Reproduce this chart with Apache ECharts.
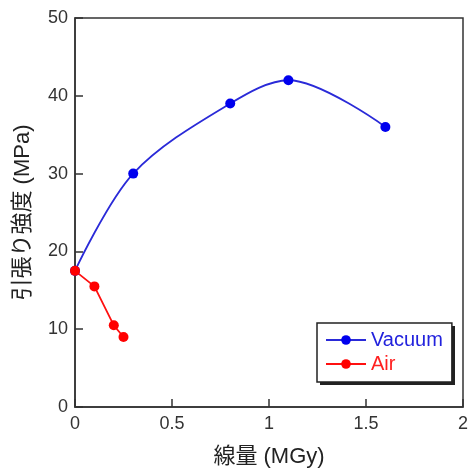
<!DOCTYPE html>
<html>
<head>
<meta charset="utf-8">
<script src="https://cdn.jsdelivr.net/npm/echarts@6/dist/echarts.min.js"></script>
<style>
html,body{margin:0;padding:0;background:#fff;}
#main{width:468px;height:468px;}
</style>
</head>
<body>
<div id="main"></div>
<script>
// データ
var vacuumX = [0, 0.3, 0.8, 1.1, 1.6];
var vacuumY = [17.5, 30, 39, 42, 36];
var airX = [0, 0.1, 0.2, 0.25];
var airY = [17.5, 15.5, 10.5, 9];
var xTicks = [0, 0.5, 1, 1.5, 2];
var yTicks = [0, 10, 20, 30, 40, 50];

function pairs(xs, ys) {
    return xs.map(function (x, i) { return [x, ys[i]]; });
}

var font = '"Liberation Sans", Arial, "Noto Sans CJK JP", sans-serif';
var axisCol = '#333';

var chart = echarts.init(document.getElementById('main'));
chart.setOption({
    animation: false,
    grid: {left: 75, right: 5, top: 18, bottom: 61, outerBoundsMode: 'none', containLabel: false,
        show: true, borderColor: axisCol, borderWidth: 1.5},
    // 凡例の影
    graphic: [{
        type: 'rect', z: 90,
        shape: {x: 320, y: 326, width: 135, height: 59},
        style: {fill: '#222'}
    }],
    xAxis: {
        type: 'value', min: xTicks[0], max: xTicks[xTicks.length - 1], interval: 0.5,
        name: '線量 (MGy)', nameLocation: 'middle', nameGap: 39,
        nameTextStyle: {fontFamily: font, fontSize: 22, color: '#222'},
        axisLine: {lineStyle: {color: axisCol, width: 1.5}},
        axisTick: {inside: true, length: 8, lineStyle: {color: axisCol, width: 1.5}},
        axisLabel: {fontFamily: font, fontSize: 18, color: '#333', margin: 8,
            formatter: function (v) { return String(v); }},
        splitLine: {show: false}
    },
    yAxis: {
        type: 'value', min: yTicks[0], max: yTicks[yTicks.length - 1], interval: 10,
        name: '引張り強度 (MPa)', nameLocation: 'middle', nameGap: 41, nameRotate: 90,
        nameTextStyle: {fontFamily: font, fontSize: 22, color: '#222'},
        axisLine: {lineStyle: {color: axisCol, width: 1.5}},
        axisTick: {inside: true, length: 8, lineStyle: {color: axisCol, width: 1.5}},
        axisLabel: {fontFamily: font, fontSize: 18, color: '#333', margin: 7},
        splitLine: {show: false}
    },
    legend: {
        left: 317, top: 323, orient: 'vertical', itemGap: 4,
        itemWidth: 40, itemHeight: 12, z: 100,
        padding: [7, 9, 8, 8],
        backgroundColor: '#fff', borderColor: '#222', borderWidth: 1.5,
        textStyle: {fontFamily: font, fontSize: 20},
        data: [
            {name: 'Vacuum', textStyle: {color: '#2222dd'}},
            {name: 'Air', textStyle: {color: '#ff2020'}}
        ]
    },
    series: [
        {
            name: 'Vacuum', type: 'line', smooth: 0.33,
            data: pairs(vacuumX, vacuumY),
            symbol: 'circle', symbolSize: 10,
            lineStyle: {color: '#2a2ad8', width: 1.8},
            itemStyle: {color: '#0000ee'}
        },
        {
            name: 'Air', type: 'line',
            data: pairs(airX, airY),
            symbol: 'circle', symbolSize: 10,
            lineStyle: {color: '#ff1010', width: 1.8},
            itemStyle: {color: '#ff0000'}
        }
    ]
});
</script>
</body>
</html>
